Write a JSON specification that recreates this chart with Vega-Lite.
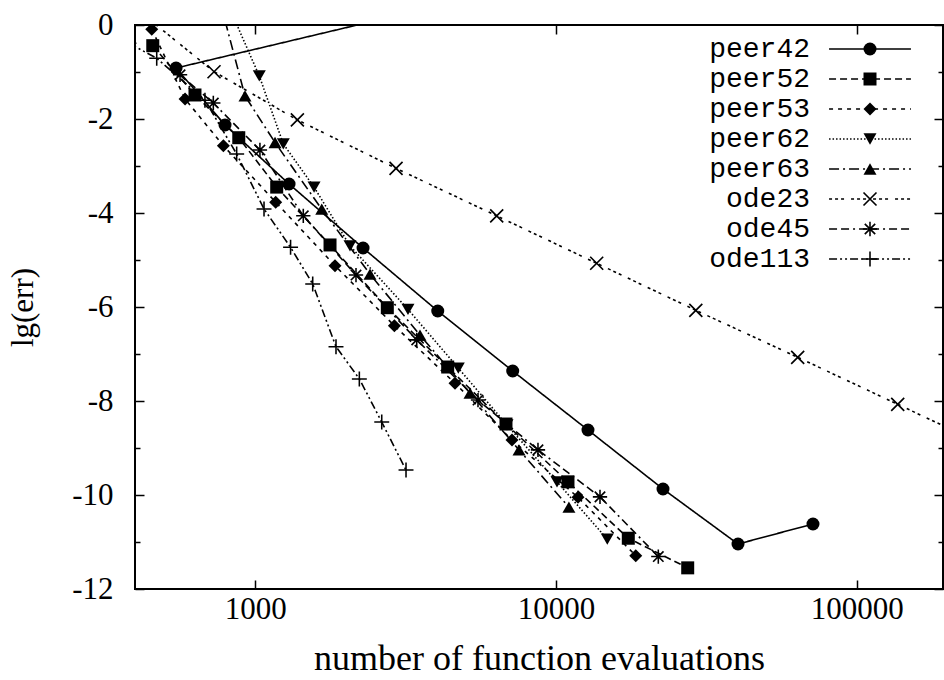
{
  "$schema": "https://vega.github.io/schema/vega-lite/v6.json",
  "width": 808,
  "height": 564,
  "autosize": {"type": "none"},
  "padding": {"left": 135, "top": 25, "right": 1, "bottom": 91},
  "background": "white",
  "config": {
    "font": "Liberation Serif",
    "view": {"stroke": "black", "strokeWidth": 2},
    "axis": {"grid": false, "domain": false, "tickColor": "black", "tickWidth": 1.5, "labelColor": "black", "titleColor": "black", "labelFont": "Liberation Serif", "titleFont": "Liberation Serif", "labelFontSize": 31, "titleFontSize": 36, "titleFontWeight": "normal"},
    "legend": {"padding": 0, "offset": 0}
  },
  "data": {"values": [
    {"m": "peer42", "o": 1, "i": 0, "n": 3000, "e": 0.21},
    {"m": "peer42", "o": 1, "i": 1, "n": 545, "e": -0.915},
    {"m": "peer42", "o": 1, "i": 2, "n": 793, "e": -2.128},
    {"m": "peer42", "o": 1, "i": 3, "n": 1295, "e": -3.383},
    {"m": "peer42", "o": 1, "i": 4, "n": 2282, "e": -4.745},
    {"m": "peer42", "o": 1, "i": 5, "n": 4043, "e": -6.085},
    {"m": "peer42", "o": 1, "i": 6, "n": 7178, "e": -7.362},
    {"m": "peer42", "o": 1, "i": 7, "n": 12774, "e": -8.617},
    {"m": "peer42", "o": 1, "i": 8, "n": 22690, "e": -9.872},
    {"m": "peer42", "o": 1, "i": 9, "n": 40300, "e": -11.043},
    {"m": "peer42", "o": 1, "i": 10, "n": 71550, "e": -10.617},
    {"m": "peer52", "o": 2, "i": 0, "n": 456, "e": -0.44},
    {"m": "peer52", "o": 2, "i": 1, "n": 630, "e": -1.489},
    {"m": "peer52", "o": 2, "i": 2, "n": 881, "e": -2.398},
    {"m": "peer52", "o": 2, "i": 3, "n": 1178, "e": -3.449},
    {"m": "peer52", "o": 2, "i": 4, "n": 1772, "e": -4.68},
    {"m": "peer52", "o": 2, "i": 5, "n": 2748, "e": -6.015},
    {"m": "peer52", "o": 2, "i": 6, "n": 4363, "e": -7.277},
    {"m": "peer52", "o": 2, "i": 7, "n": 6818, "e": -8.49},
    {"m": "peer52", "o": 2, "i": 8, "n": 10960, "e": -9.72},
    {"m": "peer52", "o": 2, "i": 9, "n": 17395, "e": -10.92},
    {"m": "peer52", "o": 2, "i": 10, "n": 27415, "e": -11.55},
    {"m": "peer53", "o": 3, "i": 0, "n": 452.5, "e": -0.092},
    {"m": "peer53", "o": 3, "i": 1, "n": 584, "e": -1.574},
    {"m": "peer53", "o": 3, "i": 2, "n": 783, "e": -2.568},
    {"m": "peer53", "o": 3, "i": 3, "n": 1169, "e": -3.77},
    {"m": "peer53", "o": 3, "i": 4, "n": 1841, "e": -5.12},
    {"m": "peer53", "o": 3, "i": 5, "n": 2900, "e": -6.398},
    {"m": "peer53", "o": 3, "i": 6, "n": 4615, "e": -7.624},
    {"m": "peer53", "o": 3, "i": 7, "n": 7140, "e": -8.83},
    {"m": "peer53", "o": 3, "i": 8, "n": 11835, "e": -10.05},
    {"m": "peer53", "o": 3, "i": 9, "n": 18420, "e": -11.29},
    {"m": "peer62", "o": 4, "i": 0, "n": 803, "e": 0.5},
    {"m": "peer62", "o": 4, "i": 1, "n": 1031, "e": -1.085},
    {"m": "peer62", "o": 4, "i": 2, "n": 1239, "e": -2.53},
    {"m": "peer62", "o": 4, "i": 3, "n": 1568, "e": -3.45},
    {"m": "peer62", "o": 4, "i": 4, "n": 2065, "e": -4.7},
    {"m": "peer62", "o": 4, "i": 5, "n": 3219, "e": -6.05},
    {"m": "peer62", "o": 4, "i": 6, "n": 4733, "e": -7.3},
    {"m": "peer62", "o": 4, "i": 7, "n": 6871, "e": -8.51},
    {"m": "peer62", "o": 4, "i": 8, "n": 10077, "e": -9.72},
    {"m": "peer62", "o": 4, "i": 9, "n": 14810, "e": -10.94},
    {"m": "peer63", "o": 5, "i": 0, "n": 763, "e": 0.5},
    {"m": "peer63", "o": 5, "i": 1, "n": 924, "e": -1.51},
    {"m": "peer63", "o": 5, "i": 2, "n": 1163, "e": -2.5},
    {"m": "peer63", "o": 5, "i": 3, "n": 1663, "e": -3.92},
    {"m": "peer63", "o": 5, "i": 4, "n": 2407, "e": -5.3},
    {"m": "peer63", "o": 5, "i": 5, "n": 3529, "e": -6.6},
    {"m": "peer63", "o": 5, "i": 6, "n": 5176, "e": -7.83},
    {"m": "peer63", "o": 5, "i": 7, "n": 7534, "e": -9.04},
    {"m": "peer63", "o": 5, "i": 8, "n": 11040, "e": -10.26},
    {"m": "ode23", "o": 6, "i": 0, "n": 380, "e": 0.47},
    {"m": "ode23", "o": 6, "i": 1, "n": 729, "e": -0.994},
    {"m": "ode23", "o": 6, "i": 2, "n": 1380, "e": -2.02},
    {"m": "ode23", "o": 6, "i": 3, "n": 2938, "e": -3.05},
    {"m": "ode23", "o": 6, "i": 4, "n": 6350, "e": -4.06},
    {"m": "ode23", "o": 6, "i": 5, "n": 13655, "e": -5.07},
    {"m": "ode23", "o": 6, "i": 6, "n": 29170, "e": -6.07},
    {"m": "ode23", "o": 6, "i": 7, "n": 63640, "e": -7.07},
    {"m": "ode23", "o": 6, "i": 8, "n": 136900, "e": -8.07},
    {"m": "ode23", "o": 6, "i": 9, "n": 294300, "e": -9.07},
    {"m": "ode45", "o": 7, "i": 0, "n": 562, "e": -1.06},
    {"m": "ode45", "o": 7, "i": 1, "n": 725, "e": -1.66},
    {"m": "ode45", "o": 7, "i": 2, "n": 1036, "e": -2.66},
    {"m": "ode45", "o": 7, "i": 3, "n": 1444, "e": -4.06},
    {"m": "ode45", "o": 7, "i": 4, "n": 2162, "e": -5.32},
    {"m": "ode45", "o": 7, "i": 5, "n": 3442, "e": -6.7},
    {"m": "ode45", "o": 7, "i": 6, "n": 5503, "e": -7.98},
    {"m": "ode45", "o": 7, "i": 7, "n": 8711, "e": -9.04},
    {"m": "ode45", "o": 7, "i": 8, "n": 14005, "e": -10.04},
    {"m": "ode45", "o": 7, "i": 9, "n": 21890, "e": -11.31},
    {"m": "ode113", "o": 8, "i": 0, "n": 380, "e": -0.39},
    {"m": "ode113", "o": 8, "i": 1, "n": 470, "e": -0.708},
    {"m": "ode113", "o": 8, "i": 2, "n": 680, "e": -1.6},
    {"m": "ode113", "o": 8, "i": 3, "n": 867, "e": -2.745},
    {"m": "ode113", "o": 8, "i": 4, "n": 1069, "e": -3.915},
    {"m": "ode113", "o": 8, "i": 5, "n": 1310, "e": -4.73},
    {"m": "ode113", "o": 8, "i": 6, "n": 1552, "e": -5.51},
    {"m": "ode113", "o": 8, "i": 7, "n": 1855, "e": -6.845},
    {"m": "ode113", "o": 8, "i": 8, "n": 2218, "e": -7.53},
    {"m": "ode113", "o": 8, "i": 9, "n": 2633, "e": -8.447},
    {"m": "ode113", "o": 8, "i": 10, "n": 3171, "e": -9.47}
  ]},
  "resolve": {"axis": {"x": "independent", "y": "independent"}},
  "layer": [
    {
      "mark": {"type": "line", "clip": true, "strokeWidth": 1.6, "color": "black"},
      "encoding": {
        "x": {"field": "n", "type": "quantitative",
              "scale": {"type": "log", "domain": [398, 193650], "nice": false},
              "axis": {"orient": "bottom", "values": [1000, 10000, 100000], "format": "d", "tickSize": -9, "labelPadding": 14, "labelFlush": false, "title": "number of function evaluations", "titlePadding": 17}},
        "y": {"field": "e", "type": "quantitative",
              "scale": {"domain": [-12, 0], "nice": false, "zero": false},
              "axis": {"orient": "left", "values": [-12, -10, -8, -6, -4, -2, 0], "labelExpr": "'' + datum.value", "tickSize": -9, "labelPadding": 31, "title": "lg(err)", "titleFontSize": 31, "titlePadding": 32}},
        "order": {"field": "i"},
        "strokeDash": {"field": "m", "type": "nominal",
                       "scale": {"domain": ["peer42", "peer52", "peer53", "peer62", "peer63", "ode23", "ode45", "ode113"],
                                 "range": [[1, 0], [7, 4], [4, 5], [1.5, 2], [10, 4, 2, 4], [3, 3, 3, 3, 3, 7], [8, 4, 8, 4, 2, 4], [8, 3, 2, 3, 2, 3]]},
                       "legend": {"orient": "none", "legendX": 721, "legendY": 10, "title": null, "symbolType": "M-6.3,0L6.3,0", "symbolSize": 169, "symbolStrokeWidth": 1.6, "symbolStrokeColor": "black", "labelFont": "Liberation Mono", "labelFontSize": 28, "labelColor": "black", "labelAlign": "right", "labelOffset": -74, "labelLimit": 0, "rowPadding": 2}}
      }
    },
    {
      "mark": {"type": "point", "clip": true, "filled": true, "opacity": 1, "size": 169, "fill": "black", "strokeWidth": 0},
      "encoding": {
        "x": {"field": "n", "type": "quantitative", "axis": {"orient": "top", "values": [1000, 10000, 100000], "labels": false, "tickSize": -9, "title": null}},
        "y": {"field": "e", "type": "quantitative", "axis": {"orient": "right", "values": [-12, -10, -8, -6, -4, -2, 0], "labels": false, "tickSize": -9, "title": null}},
        "shape": {"field": "m", "type": "nominal", "sort": {"field": "o", "op": "min"},
                  "scale": {"range": ["circle", "square", "diamond", "triangle-down", "triangle-up",
                    "M-0.91,-1.09L1.09,0.91L0.91,1.09L-1.09,-0.91ZM-0.91,1.09L-1.09,0.91L0.91,-1.09L1.09,-0.91Z",
                    "M-0.71,-0.89L0.89,0.71L0.71,0.89L-0.89,-0.71ZM-0.71,0.89L-0.89,0.71L0.71,-0.89L0.89,-0.71ZM-1.1,-0.12L1.1,-0.12L1.1,0.12L-1.1,0.12ZM0.12,-1.1L0.12,1.1L-0.12,1.1L-0.12,-1.1Z",
                    "M-1.15,-0.12L1.15,-0.12L1.15,0.12L-1.15,0.12ZM0.12,-1.15L0.12,1.15L-0.12,1.15L-0.12,-1.15Z"]},
                  "legend": {"orient": "none", "legendX": 721, "legendY": 10, "title": null, "symbolSize": 169, "symbolFillColor": "black", "symbolStrokeWidth": 0, "labelFont": "Liberation Mono", "labelFontSize": 28, "labelExpr": "' '", "labelOpacity": 0, "rowPadding": 2}}
      }
    },
    {
      "mark": {"type": "point", "opacity": 0},
      "encoding": {
        "x": {"field": "n", "type": "quantitative", "axis": null},
        "y": {"field": "e", "type": "quantitative", "axis": {"orient": "left", "values": [-11, -9, -7, -5, -3, -1], "labels": false, "tickSize": -5, "title": null}}
      }
    },
    {
      "mark": {"type": "point", "opacity": 0},
      "encoding": {
        "x": {"field": "n", "type": "quantitative", "axis": null},
        "y": {"field": "e", "type": "quantitative", "axis": {"orient": "right", "values": [-11, -9, -7, -5, -3, -1], "labels": false, "tickSize": -5, "title": null}}
      }
    }
  ]
}
